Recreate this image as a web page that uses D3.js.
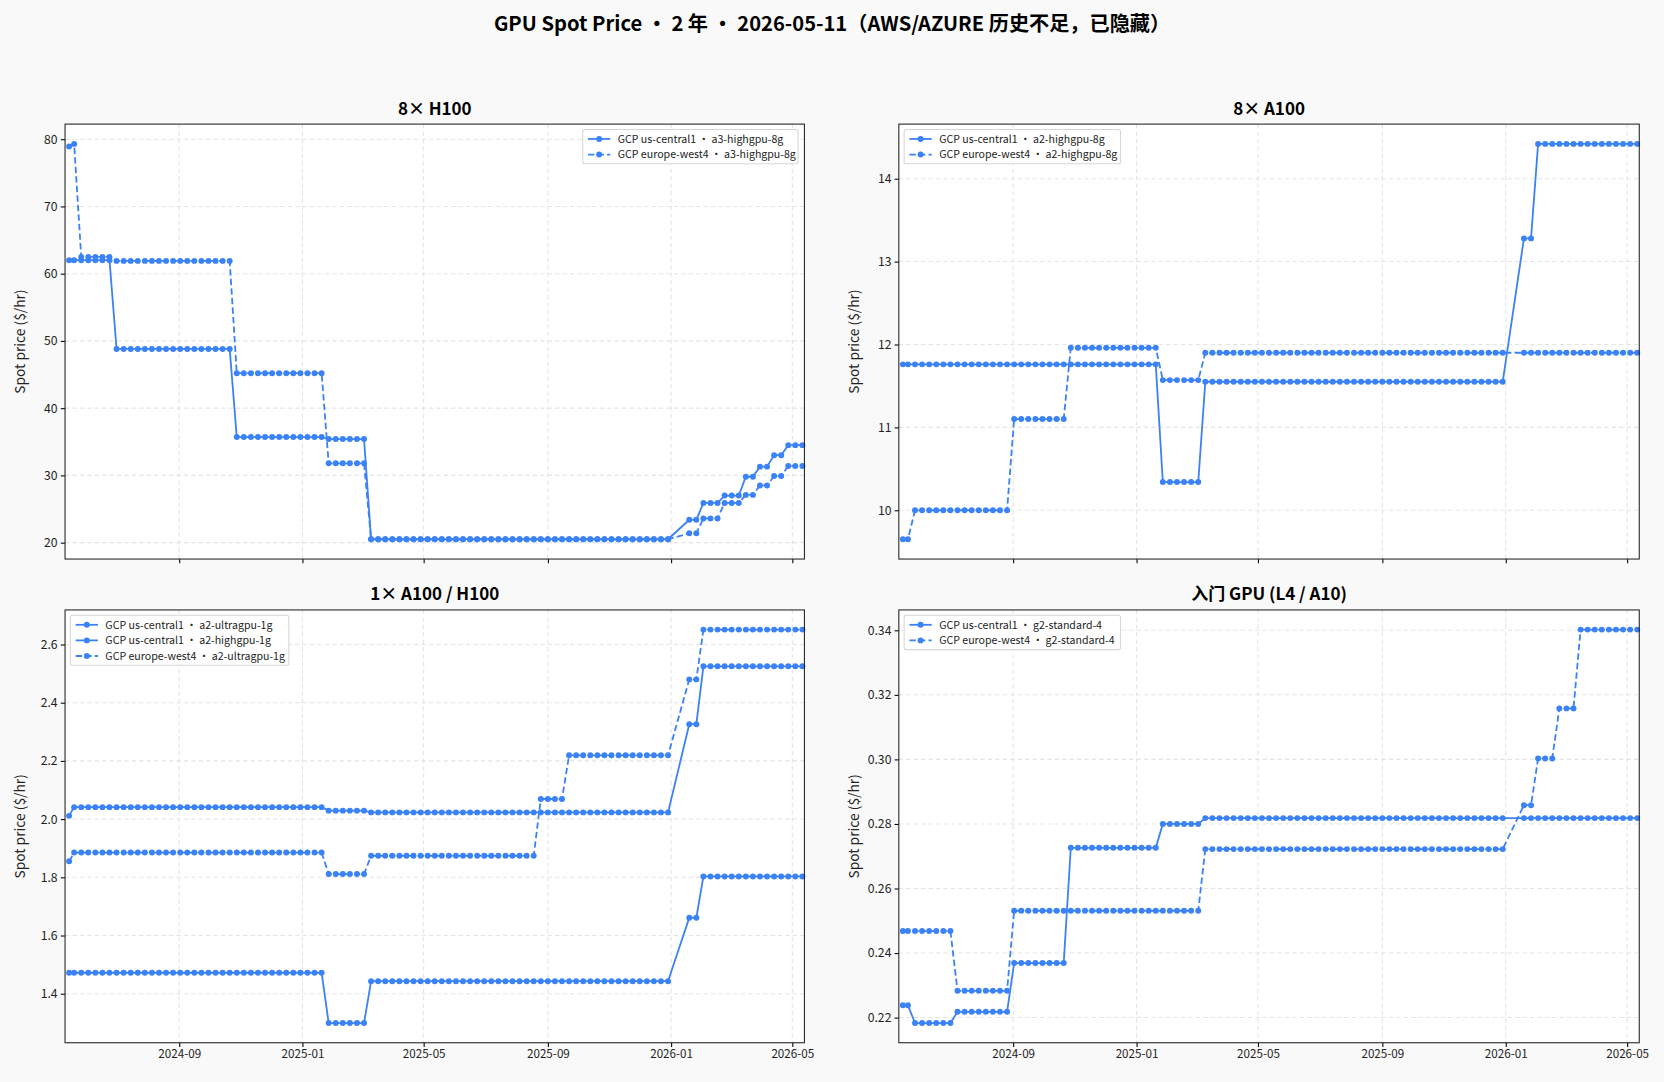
<!DOCTYPE html>
<html>
<head>
<meta charset="utf-8">
<script src="https://cdn.jsdelivr.net/npm/d3@7"></script>
<style>
body{margin:0;background:#f9f9f9;}
text{font-family:"Noto Sans CJK SC","Noto Sans",sans-serif;}
</style>
</head>
<body>
<svg id="chart" width="1664" height="1082" viewBox="0 0 1568 1020"></svg>
<script>

// observation dates (roughly weekly, gap around new year 2026)
const sampleDates = [
"2024-05-15","2024-05-20","2024-05-27","2024-06-03","2024-06-10","2024-06-17","2024-06-24","2024-07-01","2024-07-08","2024-07-15","2024-07-22","2024-07-29",
"2024-08-05","2024-08-12","2024-08-19","2024-08-26","2024-09-02","2024-09-09","2024-09-16","2024-09-23","2024-09-30","2024-10-07","2024-10-14","2024-10-21",
"2024-10-28","2024-11-04","2024-11-11","2024-11-18","2024-11-25","2024-12-02","2024-12-09","2024-12-16","2024-12-23","2024-12-30",
"2025-01-06","2025-01-13","2025-01-20","2025-01-27","2025-02-03","2025-02-10","2025-02-17","2025-02-24","2025-03-03","2025-03-10","2025-03-17","2025-03-24",
"2025-03-31","2025-04-07","2025-04-14","2025-04-21","2025-04-28","2025-05-05","2025-05-12","2025-05-19","2025-05-26","2025-06-02","2025-06-09","2025-06-16",
"2025-06-23","2025-06-30","2025-07-07","2025-07-14","2025-07-21","2025-07-28","2025-08-04","2025-08-11","2025-08-18","2025-08-25","2025-09-01","2025-09-08",
"2025-09-15","2025-09-22","2025-09-29","2025-10-06","2025-10-13","2025-10-20","2025-10-27","2025-11-03","2025-11-10","2025-11-17","2025-11-24","2025-12-01",
"2025-12-08","2025-12-15","2025-12-22","2025-12-29",
"2026-01-19","2026-01-26","2026-02-02","2026-02-09","2026-02-16","2026-02-23","2026-03-02","2026-03-09","2026-03-16","2026-03-23","2026-03-30","2026-04-06",
"2026-04-13","2026-04-20","2026-04-27","2026-05-04","2026-05-11"
]

// price changes: [date, price] — price holds until the next entry
const h100Central = [["2024-05-15",62.0],["2024-07-01",48.8],["2024-10-28",35.7],["2025-01-27",35.4],["2025-03-10",20.5],
["2026-01-19",23.4],["2026-02-02",25.9],["2026-02-23",27.0],["2026-03-16",29.8],["2026-03-30",31.3],["2026-04-13",33.0],["2026-04-27",34.5]]
const h100Europe = [["2024-05-15",78.9],["2024-05-20",79.3],["2024-05-27",62.5],["2024-07-01",61.9],["2024-10-28",45.2],["2025-01-27",31.8],["2025-03-10",20.5],
["2026-01-19",21.4],["2026-02-02",23.6],["2026-02-23",25.9],["2026-03-16",27.1],["2026-03-30",28.5],["2026-04-13",29.9],["2026-04-27",31.4]]

const a100Central = [["2024-05-15",11.76],["2025-01-27",10.34],["2025-03-10",11.55],["2026-01-19",13.28],["2026-02-02",14.42]]
const a100Europe = [["2024-05-15",9.65],["2024-05-27",10.0],["2024-09-02",11.1],["2024-10-28",11.96],["2025-01-27",11.57],["2025-03-10",11.9]]

const ultraCentral = [["2024-05-15",2.011],["2024-05-20",2.041],["2025-01-27",2.029],["2025-03-10",2.023],["2026-01-19",2.326],["2026-02-02",2.525]]
const highCentral = [["2024-05-15",1.472],["2025-01-27",1.299],["2025-03-10",1.443],["2026-01-19",1.661],["2026-02-02",1.803]]
const ultraEurope = [["2024-05-15",1.855],["2024-05-20",1.885],["2025-01-27",1.811],["2025-03-10",1.874],["2025-08-25",2.069],["2025-09-22",2.219],
["2026-01-19",2.48],["2026-02-02",2.651]]

const g2Central = [["2024-05-15",0.2238],["2024-05-27",0.2183],["2024-07-08",0.2218],["2024-09-02",0.2369],["2024-10-28",0.2726],["2025-01-27",0.2800],["2025-03-10",0.2818]]
const g2Europe = [["2024-05-15",0.2468],["2024-07-08",0.2283],["2024-09-02",0.2531],["2025-03-10",0.2722],["2026-01-19",0.2858],["2026-02-02",0.3003],
["2026-02-23",0.3158],["2026-03-16",0.3402]]

const panels = [
  {title:"8× H100", legendRight:true, yTicks:[20,30,40,50,60,70,80], fmt:d3.format("d"),
   series:[{name:"GCP us-central1 · a3-highgpu-8g",data:h100Central,dash:false},{name:"GCP europe-west4 · a3-highgpu-8g",data:h100Europe,dash:true}]},
  {title:"8× A100", yTicks:[10,11,12,13,14], fmt:d3.format("d"),
   series:[{name:"GCP us-central1 · a2-highgpu-8g",data:a100Central,dash:false},{name:"GCP europe-west4 · a2-highgpu-8g",data:a100Europe,dash:true}]},
  {title:"1× A100 / H100", yTicks:[1.4,1.6,1.8,2.0,2.2,2.4,2.6], fmt:d3.format(".1f"),
   series:[{name:"GCP us-central1 · a2-ultragpu-1g",data:ultraCentral,dash:false},{name:"GCP us-central1 · a2-highgpu-1g",data:highCentral,dash:false},{name:"GCP europe-west4 · a2-ultragpu-1g",data:ultraEurope,dash:true}]},
  {title:"入门 GPU (L4 / A10)", yTicks:[0.22,0.24,0.26,0.28,0.30,0.32,0.34], fmt:d3.format(".2f"),
   series:[{name:"GCP us-central1 · g2-standard-4",data:g2Central,dash:false},{name:"GCP europe-west4 · g2-standard-4",data:g2Europe,dash:true}]}
]

const color = "#3b82f6"
const parse = d3.timeParse("%Y-%m-%d")
const dates = sampleDates.map(parse)

const boxes = [
  {x0:61,x1:758,y0:117,y1:527},
  {x0:847,x1:1545,y0:117,y1:527},
  {x0:61,x1:758,y0:575,y1:983},
  {x0:847,x1:1545,y0:575,y1:983}
]

const svg = d3.select("#chart")

svg.append("text").attr("x",784).attr("y",29).attr("text-anchor","middle")
.attr("font-size","19px").attr("font-weight","bold")
.text("GPU Spot Price · 2 年 · 2026-05-11（AWS/AZURE 历史不足，已隐藏）")

function expand(changes){
  const pts = changes.map(d=>[parse(d[0]),d[1]])
  return dates.map(t=>{
    let v = pts[0][1]
    for(const p of pts){ if(p[0]<=t) v=p[1] }
    return {date:t,value:v}
  })
}

panels.forEach((p,i)=>{

const b = boxes[i]
const bottomRow = i>=2

const x = d3.scaleTime()
.domain([parse("2024-05-11"),parse("2026-05-13")])
.range([b.x0,b.x1])

const rows = p.series.map(s=>expand(s.data))
const ext = d3.extent(rows.flat(),d=>d.value)
const pad = (ext[1]-ext[0])*0.05

const y = d3.scaleLinear()
.domain([ext[0]-pad,ext[1]+pad])
.range([b.y1,b.y0])

const g = svg.append("g")

g.append("rect").attr("x",b.x0).attr("y",b.y0).attr("width",b.x1-b.x0).attr("height",b.y1-b.y0).attr("fill","white")

const xTicks = d3.timeMonth.every(4).range(parse("2024-06-01"),parse("2026-05-13"))

g.selectAll(".gx").data(xTicks).enter().append("line")
.attr("x1",d=>x(d)).attr("x2",d=>x(d)).attr("y1",b.y0).attr("y2",b.y1)
.attr("stroke","#e3e3e3").attr("stroke-dasharray","4,3")

g.selectAll(".gy").data(p.yTicks).enter().append("line")
.attr("x1",b.x0).attr("x2",b.x1).attr("y1",d=>y(d)).attr("y2",d=>y(d))
.attr("stroke","#e3e3e3").attr("stroke-dasharray","4,3")

const xAxis = d3.axisBottom(x).tickValues(xTicks).tickSize(4)
.tickFormat(bottomRow ? d3.timeFormat("%Y-%m") : "")

const ax = g.append("g").attr("transform",`translate(0,${b.y1})`).call(xAxis)
ax.select(".domain").remove()
ax.selectAll("text").attr("font-size","11px").attr("fill","#222")

const ay = g.append("g").attr("transform",`translate(${b.x0},0)`)
.call(d3.axisLeft(y).tickValues(p.yTicks).tickFormat(p.fmt).tickSize(4))
ay.select(".domain").remove()
ay.selectAll("text").attr("font-size","11.5px").attr("fill","#222")

const line = d3.line().x(d=>x(d.date)).y(d=>y(d.value))

p.series.forEach((s,k)=>{
  g.append("path").datum(rows[k]).attr("d",line)
  .attr("fill","none").attr("stroke",color).attr("stroke-width",1.7)
  .attr("stroke-dasharray",s.dash?"6,3":null)

  g.selectAll(".m"+k).data(rows[k]).enter().append("circle")
  .attr("cx",d=>x(d.date)).attr("cy",d=>y(d.value)).attr("r",2.8).attr("fill",color)
})

g.append("rect").attr("x",b.x0).attr("y",b.y0).attr("width",b.x1-b.x0).attr("height",b.y1-b.y0)
.attr("fill","none").attr("stroke","#222").attr("stroke-width",1)

g.append("text").attr("x",(b.x0+b.x1)/2).attr("y",b.y0-9).attr("text-anchor","middle")
.attr("font-size","16px").attr("font-weight","bold").text(p.title)

g.append("text").attr("transform",`translate(${b.x0-38},${(b.y0+b.y1)/2}) rotate(-90)`)
.attr("text-anchor","middle").attr("font-size","13px").attr("font-family","DejaVu Sans").attr("fill","#222")
.text("Spot price ($/hr)")

// legend
const lw = p.series.length===3 ? 206 : (p.legendRight ? 203 : 204)
const lh = p.series.length*14.7+3
const lx = p.legendRight ? b.x1-6-lw : b.x0+5
const ly = b.y0+5
const lg = g.append("g")
lg.append("rect").attr("x",lx).attr("y",ly).attr("width",lw).attr("height",lh).attr("rx",2)
.attr("fill","white").attr("fill-opacity",0.85).attr("stroke","#d6d6d6")
p.series.forEach((s,k)=>{
  const yy = ly+9+k*14.7
  lg.append("line").attr("x1",lx+5).attr("x2",lx+26).attr("y1",yy).attr("y2",yy)
  .attr("stroke",color).attr("stroke-width",1.7).attr("stroke-dasharray",s.dash?"6,3":null)
  lg.append("circle").attr("cx",lx+15.5).attr("cy",yy).attr("r",2.8).attr("fill",color)
  lg.append("text").attr("x",lx+33).attr("y",yy+3.5).attr("font-size","10px").attr("fill","#222").text(s.name)
})

})
</script>
</body>
</html>
